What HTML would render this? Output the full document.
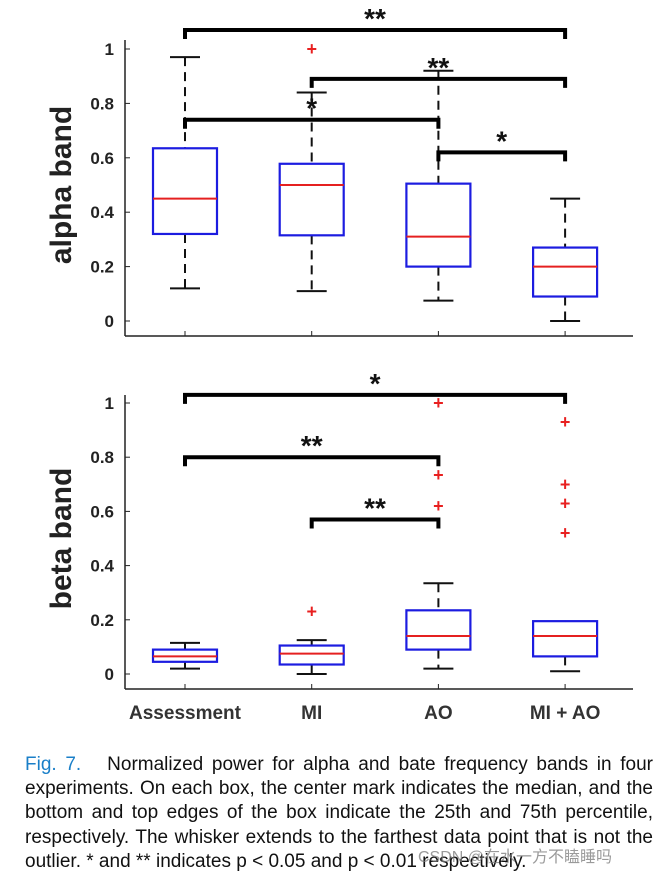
<!DOCTYPE html>
<html><head><meta charset="utf-8">
<style>
body{margin:0;background:#fff;width:664px;height:874px;overflow:hidden;font-family:"Liberation Sans",Arial,sans-serif}
#cap{position:absolute;left:25px;top:753px;width:628px;font-size:19px;line-height:24.2px;color:#111}
#cap div{text-align:justify;text-align-last:justify;white-space:nowrap}
#cap div.last{text-align-last:left}
#cap .fig{color:#1a7fc8}
#wm{position:absolute;left:418px;top:843px;font-size:16px;color:rgba(120,120,120,0.75);font-family:"Liberation Sans","Noto Sans CJK SC",sans-serif}
</style></head><body>
<svg id="chart" width="664" height="750" style="position:absolute;left:0;top:0" xmlns="http://www.w3.org/2000/svg"></svg>
<div id="cap">
<div><span class="fig">Fig. 7.</span>&nbsp;&nbsp;&nbsp;Normalized power for alpha and bate frequency bands in four</div>
<div>experiments. On each box, the center mark indicates the median, and the</div>
<div>bottom and top edges of the box indicate the 25th and 75th percentile,</div>
<div>respectively. The whisker extends to the farthest data point that is not the</div>
<div class="last">outlier. * and ** indicates p &lt; 0.05 and p &lt; 0.01 respectively.</div>
</div>
<div id="wm">CSDN @在水一方不瞌睡吗</div>
<script>
const categories=["Assessment","MI","AO","MI + AO"];
const yTicks=[0,0.2,0.4,0.6,0.8,1];
const yTickLabels=["0","0.2","0.4","0.6","0.8","1"];
// alpha band
const alphaLow=[0.12,0.11,0.075,0];
const alphaQ1=[0.32,0.315,0.2,0.09];
const alphaMed=[0.45,0.50,0.31,0.2];
const alphaQ3=[0.635,0.578,0.505,0.27];
const alphaHigh=[0.97,0.84,0.92,0.45];
const alphaOutliers=[[],[1.0],[],[]];
const alphaBrackets=[[0,3,1.07,"**"],[1,3,0.89,"**"],[0,2,0.74,"*"],[2,3,0.62,"*"]];
// beta band
const betaLow=[0.02,0,0.02,0.01];
const betaQ1=[0.045,0.035,0.09,0.065];
const betaMed=[0.065,0.075,0.14,0.14];
const betaQ3=[0.09,0.105,0.235,0.195];
const betaHigh=[0.115,0.125,0.335,0.195];
const betaOutliers=[[],[0.23],[1.0,0.735,0.62],[0.93,0.70,0.63,0.52]];
const betaBrackets=[[0,3,1.03,"*"],[0,2,0.80,"**"],[1,2,0.57,"**"]];

const NS="http://www.w3.org/2000/svg";
const svg=document.getElementById('chart');
function el(t,a,p){const e=document.createElementNS(NS,t);for(const k in a)e.setAttribute(k,a[k]);(p||svg).appendChild(e);return e;}
const xPos=i=>185+i*126.7;

function panel(name,y1,y0,axisY,topY,low,q1,med,q3,high,outs,brackets,label,showX){
  const g=el('g',{});
  
  
  const Y=v=>y0-(y0-y1)*v;
  el('line',{x1:125,y1:topY,x2:125,y2:axisY,stroke:'#222','stroke-width':1.5},g);
  el('line',{x1:125,y1:axisY,x2:633,y2:axisY,stroke:'#222','stroke-width':1.5},g);
  yTicks.forEach((t,i)=>{
    el('line',{x1:125,y1:Y(t),x2:130,y2:Y(t),stroke:'#222'},g);
    const tx=el('text',{x:114,y:Y(t)+6,'text-anchor':'end','font-size':17,'font-weight':'bold',fill:'#222'},g);
    tx.textContent=yTickLabels[i];
    
    
  });
  const yl=el('text',{x:0,y:0,transform:`translate(71,${(y0+y1)/2}) rotate(-90)`,'text-anchor':'middle','font-size':30,'font-weight':'bold',fill:'#222'},g);
  yl.textContent=label;
  
  
  categories.forEach((c,i)=>{
    const x=xPos(i);
    el('line',{x1:x,y1:axisY,x2:x,y2:axisY-5,stroke:'#222'},g);
    const b=el('g',{},g);
    
    
    el('line',{x1:x,y1:Y(high[i]),x2:x,y2:Y(q3[i]),stroke:'#111','stroke-width':2,'stroke-dasharray':'9,6'},b);
    el('line',{x1:x,y1:Y(q1[i]),x2:x,y2:Y(low[i]),stroke:'#111','stroke-width':2,'stroke-dasharray':'9,6'},b);
    if(high[i]>q3[i]) el('line',{x1:x-15,y1:Y(high[i]),x2:x+15,y2:Y(high[i]),stroke:'#111','stroke-width':2},b);
    el('line',{x1:x-15,y1:Y(low[i]),x2:x+15,y2:Y(low[i]),stroke:'#111','stroke-width':2},b);
    el('rect',{x:x-32,y:Y(q3[i]),width:64,height:Y(q1[i])-Y(q3[i]),fill:'none',stroke:'#1c1ce0','stroke-width':2.2},b);
    el('line',{x1:x-32,y1:Y(med[i]),x2:x+32,y2:Y(med[i]),stroke:'#e52020','stroke-width':2},b);
    outs[i].forEach(v=>{
      const o=el('text',{x:x,y:Y(v)+6,'text-anchor':'middle','font-size':18,'font-weight':'bold',fill:'#e82020'},b);
      o.textContent='+';
      
      
    });
    if(showX){
      const t=el('text',{x:x,y:axisY+30,'text-anchor':'middle','font-size':19,'font-weight':'bold',fill:'#333'},g);
      t.textContent=c;
      
      
    }
  });
  brackets.forEach(br=>{
    const xa=xPos(br[0]),xb=xPos(br[1]),yy=Y(br[2]);
    const bg=el('g',{},g);
    
    
    el('path',{d:`M${xa},${yy+9}V${yy}H${xb}V${yy+9}`,fill:'none',stroke:'#000','stroke-width':4},bg);
    const s=el('text',{x:(xa+xb)/2,y:yy-2,'text-anchor':'middle','font-size':28,'font-weight':'bold',fill:'#111'},bg);
    s.textContent=br[3];
  });
}
panel('alpha',49,321,336,40,alphaLow,alphaQ1,alphaMed,alphaQ3,alphaHigh,alphaOutliers,alphaBrackets,'alpha band',false);
panel('beta',403,674,689,395,betaLow,betaQ1,betaMed,betaQ3,betaHigh,betaOutliers,betaBrackets,'beta band',true);
</script>
</body></html>
